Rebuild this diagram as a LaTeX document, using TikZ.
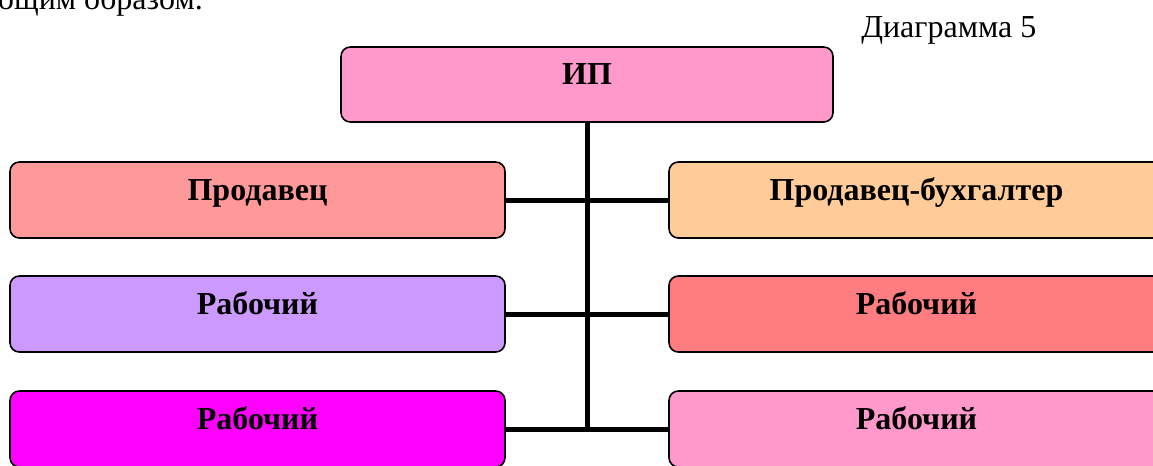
\documentclass[tikz,border=0pt]{standalone}
\usepackage{fontspec}
\setmainfont{Liberation Serif}
\definecolor{cIP}{HTML}{FF99CC}
\definecolor{cSeller}{HTML}{FF9999}
\definecolor{cAcc}{HTML}{FFCC99}
\definecolor{cViolet}{HTML}{CC99FF}
\definecolor{cCoral}{HTML}{FF7C80}
\definecolor{cMagenta}{HTML}{FF00FF}
\definecolor{cPink}{HTML}{FF99CC}
\tikzset{
  orgbox/.style={draw=black, line width=1.2pt, rounded corners=7pt,
    minimum width=371.25pt, minimum height=57pt, inner xsep=0pt, inner ysep=0pt,
    text height=28.5pt, text depth=28.5pt,
    font=\fontsize{24}{28}\selectfont\bfseries},
  link/.style={draw=black, line width=3.75pt},
  plain/.style={font=\fontsize{24}{28}\selectfont, inner sep=0pt}
}
\begin{document}
\begin{tikzpicture}[x=0.75pt, y=-0.75pt]
\useasboundingbox (0,0) rectangle (1153,465);
\clip (0,0) rectangle (1153,465);
\node[plain, anchor=base east] (prev) at (203,9) {ющим образом.};
\node[plain, anchor=base west] (cap) at (861,37) {Диаграмма 5};
\node[orgbox, fill=cIP, minimum width=369pt, minimum height=56.25pt, text height=28.1pt, text depth=28.1pt] (ip) at (587,84.5) {ИП};
\node[orgbox, fill=cSeller] (l1) at (257.5,200) {Продавец};
\node[orgbox, fill=cAcc] (r1) at (916.5,200) {Продавец-бухгалтер};
\node[orgbox, fill=cViolet] (l2) at (257.5,314) {Рабочий};
\node[orgbox, fill=cCoral] (r2) at (916.5,314) {Рабочий};
\node[orgbox, fill=cMagenta] (l3) at (257.5,429) {Рабочий};
\node[orgbox, fill=cPink] (r3) at (916.5,429) {Рабочий};
\coordinate (trunkend) at (587,429);
\draw[link] (ip.south) -- (trunkend);
\draw[link] (l1.east) -- (r1.west);
\draw[link] (l2.east) -- (r2.west);
\draw[link] (l3.east) -- (r3.west);
\end{tikzpicture}
\end{document}
